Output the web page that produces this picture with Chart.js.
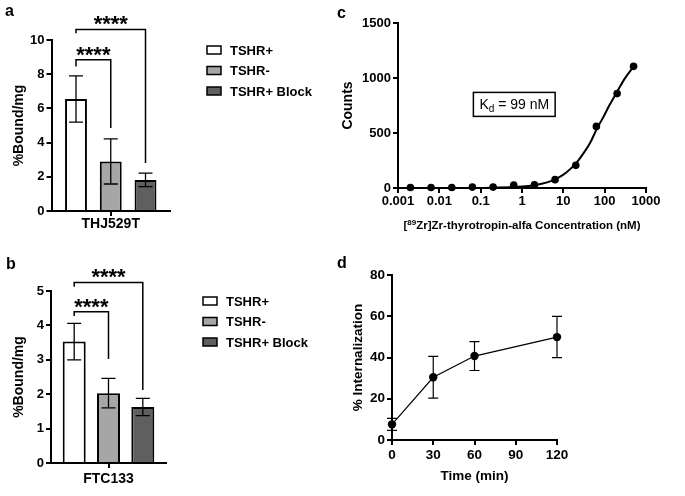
<!DOCTYPE html>
<html>
<head>
<meta charset="utf-8">
<title>TSHR binding</title>
<script src="https://cdn.jsdelivr.net/npm/chart.js@4.4.1/dist/chart.umd.min.js"></script>
<style>
  html, body { margin: 0; padding: 0; background: #fff; }
  body { position: relative; width: 685px; height: 496px; overflow: hidden;
         font-family: "Liberation Sans", Arial, sans-serif; }
  .panel { position: absolute; }
  .panel canvas { display: block; }
  .letter { position: absolute; font-weight: bold; font-size: 16px; line-height: 16px; color: #000; }
</style>
</head>
<body>
<div class="panel" style="left:0;top:0"><canvas id="chartA" width="340" height="240"></canvas></div>
<div class="panel" style="left:0;top:240px"><canvas id="chartB" width="340" height="256"></canvas></div>
<div class="panel" style="left:340px;top:0"><canvas id="chartC" width="345" height="240"></canvas></div>
<div class="panel" style="left:340px;top:240px"><canvas id="chartD" width="345" height="256"></canvas></div>
<div class="letter" style="left:5px;top:3px">a</div>
<div class="letter" style="left:6px;top:256px">b</div>
<div class="letter" style="left:337px;top:5px">c</div>
<div class="letter" style="left:337px;top:255px">d</div>

<script>
const FONT = '"Liberation Sans", Arial, sans-serif';
Chart.defaults.font.family = FONT;
Chart.defaults.font.weight = 'bold';
Chart.defaults.font.size = 13;
Chart.defaults.color = '#000';

// ---------- Data ----------
const GROUPS = ['TSHR+', 'TSHR-', 'TSHR+ Block'];
const GROUP_FILLS = ['#ffffff', '#a6a6a6', '#5f5f5f'];

const THJ_LABELS = ['THJ529T'];
const THJ_MEAN = [6.55, 2.9, 1.82];
const THJ_SD = [1.35, 1.32, 0.4];

const FTC_LABELS = ['FTC133'];
const FTC_MEAN = [3.53, 2.03, 1.63];
const FTC_SD = [0.53, 0.43, 0.25];

// significance brackets: [group a, group b, bar level, left leg end, right leg end]
const THJ_SIG = [[0, 1, 8.85, 8.45, 4.85], [0, 2, 10.62, 10.4, 2.8]];
const FTC_SIG = [[0, 1, 4.4, 4.27, 3.02], [0, 2, 5.25, 5.12, 2.12]];
const SIG_TEXT = '****';

const CONC_NM = [0.002, 0.0063, 0.02, 0.063, 0.2, 0.63, 2, 6.3, 20, 63, 200, 500];
const COUNTS = [5, 5, 5, 8, 8, 27, 30, 76, 206, 560, 858, 1106];
const FIT_NM = [0.002, 0.02, 0.2, 0.6, 1, 2, 3, 5, 8, 12, 20, 30, 45, 65, 90, 130, 200, 300, 500];
const FIT_COUNTS = [0, 0, 3, 8, 13, 26, 39, 63, 99, 144, 222, 310, 414, 540, 635, 752, 875, 990, 1105];
const CONC_TICKS = [0.001, 0.01, 0.1, 1, 10, 100, 1000];
const KD_NM = 99;

const TIME_MIN = [0, 30, 60, 120];
const INTERNAL_PCT = [7.6, 30.4, 40.7, 49.9];
const INTERNAL_SD = [2.9, 10.1, 7.0, 10.0];

// ---------- Plugins ----------
function groupLegend(top, boxLeft, textLeft, rowGap) {
  return {
    id: 'groupLegend',
    afterDraw(chart) {
      const { ctx, chartArea } = chart;
      ctx.save();
      ctx.font = `bold 13px ${FONT}`;
      ctx.textBaseline = 'middle';
      chart.data.datasets.forEach((ds, i) => {
        const y = chartArea.top + top + i * rowGap;
        const x = chartArea.right + boxLeft;
        ctx.fillStyle = ds.backgroundColor;
        ctx.fillRect(x, y - 4, 14, 8);
        ctx.strokeStyle = '#000';
        ctx.lineWidth = 1.5;
        ctx.strokeRect(x, y - 4, 14, 8);
        ctx.fillStyle = '#000';
        ctx.fillText(ds.label, chartArea.right + textLeft, y + 1);
      });
      ctx.restore();
    },
  };
}

function barErrors(sds, cap) {
  return {
    id: 'barErrors',
    afterDatasetsDraw(chart) {
      const { ctx } = chart;
      const ys = chart.scales.y;
      ctx.save();
      ctx.strokeStyle = '#000';
      ctx.lineWidth = 1.3;
      chart.data.datasets.forEach((ds, i) => {
        const bar = chart.getDatasetMeta(i).data[0];
        const m = ds.data[0];
        const top = ys.getPixelForValue(m + sds[i]);
        const bot = ys.getPixelForValue(m - sds[i]);
        ctx.beginPath();
        ctx.moveTo(bar.x, top); ctx.lineTo(bar.x, bot);
        ctx.moveTo(bar.x - cap / 2, top); ctx.lineTo(bar.x + cap / 2, top);
        ctx.moveTo(bar.x - cap / 2, bot); ctx.lineTo(bar.x + cap / 2, bot);
        ctx.stroke();
      });
      ctx.restore();
    },
  };
}

function sigBrackets(items) {
  return {
    id: 'sigBrackets',
    afterDraw(chart) {
      const { ctx } = chart;
      const ys = chart.scales.y;
      ctx.save();
      ctx.strokeStyle = '#000';
      ctx.lineWidth = 1.5;
      ctx.fillStyle = '#000';
      ctx.font = `bold 22px ${FONT}`;
      ctx.textAlign = 'center';
      ctx.textBaseline = 'alphabetic';
      for (const [a, b, level, leftEnd, rightEnd] of items) {
        const xa = chart.getDatasetMeta(a).data[0].x;
        const xb = chart.getDatasetMeta(b).data[0].x;
        const yt = ys.getPixelForValue(level);
        ctx.beginPath();
        ctx.moveTo(xa, ys.getPixelForValue(leftEnd));
        ctx.lineTo(xa, yt);
        ctx.lineTo(xb, yt);
        ctx.lineTo(xb, ys.getPixelForValue(rightEnd));
        ctx.stroke();
        ctx.fillText(SIG_TEXT, (xa + xb) / 2, yt + 2);
      }
      ctx.restore();
    },
  };
}

function axis(extra) {
  return Object.assign({
    grid: { display: true, drawOnChartArea: false, color: '#000', lineWidth: 2, tickLength: 5 },
    border: { display: true, color: '#000', width: 2 },
  }, extra);
}

const plain = (v) => String(v);

// ---------- Bar panels (a, b) ----------
function barPanel(id, labels, means, sds, sig, g) {
  return new Chart(document.getElementById(id), {
    type: 'bar',
    data: {
      labels,
      datasets: GROUPS.map((name, i) => ({
        label: name,
        data: [means[i]],
        backgroundColor: GROUP_FILLS[i],
        borderColor: '#000',
        borderWidth: 2,
        categoryPercentage: g.catPct,
        barPercentage: g.barPct,
      })),
    },
    options: {
      responsive: false,
      animation: false,
      layout: { padding: { left: 0, top: g.top, right: g.right, bottom: 0 } },
      plugins: { legend: { display: false }, tooltip: { enabled: false } },
      scales: {
        x: axis({
          offset: true,
          grid: { display: true, drawOnChartArea: false, offset: false, color: '#000', lineWidth: 2, tickLength: 5 },
          ticks: { font: { size: 14 }, padding: g.xPad },
          afterFit: (s) => { s.height = g.xH; },
        }),
        y: axis({
          min: 0,
          max: g.max,
          ticks: { stepSize: g.step, padding: 2, callback: plain },
          title: { display: true, text: '%Bound/mg', font: { size: 14 }, padding: { top: 11, bottom: 0 } },
          afterFit: (s) => { s.width = g.yW; },
        }),
      },
    },
    plugins: [barErrors(sds, 14), sigBrackets(sig), groupLegend(10, 37, 60, 20.5)],
  });
}

barPanel('chartA', THJ_LABELS, THJ_MEAN, THJ_SD, THJ_SIG,
  { max: 10, step: 2, top: 40, right: 170, yW: 51.5, xH: 29, xPad: 0, catPct: 0.88, barPct: 0.63 });
barPanel('chartB', FTC_LABELS, FTC_MEAN, FTC_SD, FTC_SIG,
  { max: 5, step: 1, top: 51, right: 174, yW: 51, xH: 33, xPad: 3, catPct: 0.895, barPct: 0.67 });

// ---------- Panel c: saturation binding ----------
const kdBox = {
  id: 'kdBox',
  afterDatasetsDraw(chart) {
    const { ctx, scales } = chart;
    const cx = scales.x.getPixelForValue(0.65);
    const cy = scales.y.getPixelForValue(760);
    ctx.save();
    const big = `normal 14px ${FONT}`;
    const small = `normal 10px ${FONT}`;
    ctx.font = big; const wK = ctx.measureText('K').width;
    const tail = ` = ${KD_NM} nM`; const wT = ctx.measureText(tail).width;
    ctx.font = small; const wd = ctx.measureText('d').width;
    const w = wK + wd + wT;
    const bw = w + 12, bh = 24;
    ctx.fillStyle = '#fff';
    ctx.fillRect(cx - bw / 2, cy - bh / 2, bw, bh);
    ctx.strokeStyle = '#000';
    ctx.lineWidth = 1.5;
    ctx.strokeRect(cx - bw / 2, cy - bh / 2, bw, bh);
    ctx.fillStyle = '#000';
    ctx.textBaseline = 'alphabetic';
    let x = cx - w / 2;
    const base = cy + 5;
    ctx.font = big; ctx.fillText('K', x, base); x += wK;
    ctx.font = small; ctx.fillText('d', x, base + 3); x += wd;
    ctx.font = big; ctx.fillText(tail, x, base);
    ctx.restore();
  },
};

const concTitle = {
  id: 'concTitle',
  afterDraw(chart) {
    const { ctx, chartArea } = chart;
    const parts = [['[', 11.5, 0], ['89', 8, -4.5], ['Zr]Zr-thyrotropin-alfa Concentration (nM)', 11.5, 0]];
    ctx.save();
    ctx.fillStyle = '#000';
    ctx.textBaseline = 'alphabetic';
    let total = 0;
    const widths = parts.map(([t, size]) => {
      ctx.font = `bold ${size}px ${FONT}`;
      const w = ctx.measureText(t).width;
      total += w;
      return w;
    });
    let x = (chartArea.left + chartArea.right) / 2 - total / 2;
    const base = chartArea.bottom + 41;
    parts.forEach(([t, size, dy], i) => {
      ctx.font = `bold ${size}px ${FONT}`;
      ctx.fillText(t, x, base + dy);
      x += widths[i];
    });
    ctx.restore();
  },
};

new Chart(document.getElementById('chartC'), {
  type: 'scatter',
  data: {
    datasets: [
      {
        label: 'fit',
        data: FIT_NM.map((x, i) => ({ x, y: FIT_COUNTS[i] })),
        showLine: true,
        borderColor: '#000',
        borderWidth: 2,
        pointRadius: 0,
        cubicInterpolationMode: 'monotone',
        clip: false,
      },
      {
        label: 'Counts',
        data: CONC_NM.map((x, i) => ({ x, y: COUNTS[i] })),
        pointRadius: 3.8,
        pointBackgroundColor: '#000',
        pointBorderWidth: 0,
        clip: false,
      },
    ],
  },
  options: {
    responsive: false,
    animation: false,
    layout: { padding: { left: 0, top: 23, right: 39, bottom: 0 } },
    plugins: { legend: { display: false }, tooltip: { enabled: false } },
    scales: {
      x: axis({
        type: 'logarithmic',
        min: 0.001,
        max: 1000,
        afterBuildTicks: (s) => { s.ticks = CONC_TICKS.map((value) => ({ value })); },
        ticks: { callback: plain, autoSkip: false, maxRotation: 0, padding: 1 },
        afterFit: (s) => { s.height = 52; },
      }),
      y: axis({
        min: 0,
        max: 1500,
        ticks: { stepSize: 500, padding: 2, callback: plain },
        title: { display: true, text: 'Counts', font: { size: 14 }, padding: { top: 0, bottom: 0 } },
        afterFit: (s) => { s.width = 58; },
      }),
    },
  },
  plugins: [kdBox, concTitle],
});

// ---------- Panel d: internalization ----------
const pointErrors = {
  id: 'pointErrors',
  afterDatasetsDraw(chart) {
    const { ctx } = chart;
    const ys = chart.scales.y;
    const pts = chart.getDatasetMeta(0).data;
    ctx.save();
    ctx.strokeStyle = '#000';
    ctx.lineWidth = 1.2;
    pts.forEach((p, i) => {
      const top = ys.getPixelForValue(INTERNAL_PCT[i] + INTERNAL_SD[i]);
      const bot = ys.getPixelForValue(INTERNAL_PCT[i] - INTERNAL_SD[i]);
      ctx.beginPath();
      ctx.moveTo(p.x, top); ctx.lineTo(p.x, bot);
      ctx.moveTo(p.x - 5, top); ctx.lineTo(p.x + 5, top);
      ctx.moveTo(p.x - 5, bot); ctx.lineTo(p.x + 5, bot);
      ctx.stroke();
    });
    ctx.restore();
  },
};

new Chart(document.getElementById('chartD'), {
  type: 'scatter',
  data: {
    datasets: [{
      label: '% Internalization',
      data: TIME_MIN.map((x, i) => ({ x, y: INTERNAL_PCT[i] })),
      showLine: true,
      borderColor: '#000',
      borderWidth: 1.2,
      pointRadius: 4.2,
      pointBackgroundColor: '#000',
      pointBorderWidth: 0,
      clip: false,
    }],
  },
  options: {
    responsive: false,
    animation: false,
    layout: { padding: { left: 0, top: 35, right: 128, bottom: 0 } },
    plugins: { legend: { display: false }, tooltip: { enabled: false } },
    scales: {
      x: axis({
        type: 'linear',
        min: 0,
        max: 120,
        ticks: { stepSize: 30, padding: 2, font: { size: 13.5 } },
        title: { display: true, text: 'Time (min)', font: { size: 13.5 }, padding: { top: 0, bottom: 12 } },
        afterFit: (s) => { s.height = 56; },
      }),
      y: axis({
        min: 0,
        max: 80,
        ticks: { stepSize: 20, padding: 2, font: { size: 13.5 } },
        title: { display: true, text: '% Internalization', font: { size: 13.5 }, padding: { top: 10.5, bottom: 0 } },
        afterFit: (s) => { s.width = 52; },
      }),
    },
  },
  plugins: [pointErrors],
});
</script>
</body>
</html>
